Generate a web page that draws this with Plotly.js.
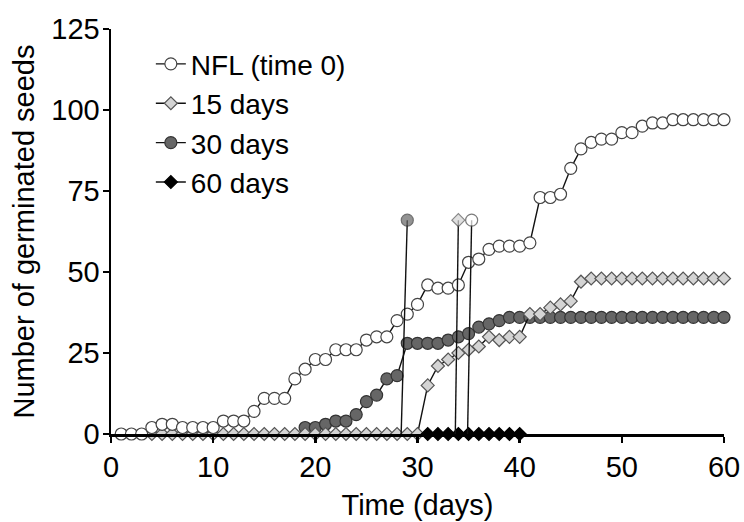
<!DOCTYPE html>
<html>
<head>
<meta charset="utf-8">
<script src="https://cdn.plot.ly/plotly-3.0.1.min.js"></script>
<style>html,body{margin:0;padding:0;background:#fff;}#chart{width:744px;height:522px;}</style>
</head>
<body>
<div id="chart"></div>
<script>
// Days
var nflDays = [1,2,3,4,5,6,7,8,9,10,11,12,13,14,15,16,17,18,19,20,21,22,23,24,25,26,27,28,29,30,31,32,33,34,35,36,37,38,39,40,41,42,43,44,45,46,47,48,49,50,51,52,53,54,55,56,57,58,59,60];
var nflValues = [0,0,0,2,3,3,2,2,2,2,4,4,4,7,11,11,11,17,20,23,23,26,26,26,29,30,30,35,37,40,46,45,45,46,53,54,57,58,58,58,59,73,73,74,82,88,90,91,91,93,93,95,96,96,97,97,97,97,97,97];

var d15Days = [4,5,6,7,8,9,10,11,12,13,14,15,16,17,18,19,20,21,22,23,24,25,26,27,28,29,30,31,32,33,34,35,36,37,38,39,40,41,42,43,44,45,46,47,48,49,50,51,52,53,54,55,56,57,58,59,60];
var d15Values = [0,0,0,0,0,0,0,0,0,0,0,0,0,0,0,0,0,0,0,0,0,0,0,0,0,0,0,15,21,23,25,26,27,30,29,30,30,37,37,39,40,41,47,48,48,48,48,48,48,48,48,48,48,48,48,48,48];

var d30Days = [19,20,21,22,23,24,25,26,27,28,29,30,31,32,33,34,35,36,37,38,39,40,41,42,43,44,45,46,47,48,49,50,51,52,53,54,55,56,57,58,59,60];
var d30Values = [2,2,3,4,4,6,10,12,17,18,28,28,28,28,29,30,31,33,34,35,36,36,36,36,36,36,36,36,36,36,36,36,36,36,36,36,36,36,36,36,36,36];

var d60Days = [31,32,33,34,35,36,37,38,39,40];
var d60Values = [0,0,0,0,0,0,0,0,0,0];

// Stray vertical strokes (marker at top, line down to the axis)
var spike30Days = [29.0, 28.4];
var spike30Values = [66, 0];
var spike15Days = [34.0, 33.7];
var spike15Values = [66, 0];
var spikeNflDays = [35.3, 34.9];
var spikeNflValues = [66, 0];

var seriesNames = ['NFL (time 0)', '15 days', '30 days', '60 days'];
var xTicks = [0,10,20,30,40,50,60];
var yTicks = [0,25,50,75,100,125];

var FONT = 'Liberation Sans, Arial, Helvetica, sans-serif';
var lineStyle = {color: '#111', width: 1.4};

var traces = [
  {x: d30Days, y: d30Values, name: seriesNames[2], mode: 'lines+markers', legendrank: 3,
   line: lineStyle, cliponaxis: false,
   marker: {symbol: 'circle', size: 12, color: '#666666', line: {color: '#333', width: 1.2}}},
  {x: d15Days, y: d15Values, name: seriesNames[1], mode: 'lines+markers', legendrank: 2,
   line: lineStyle, cliponaxis: false,
   marker: {symbol: 'diamond', size: 10, color: '#d4d4d4', line: {color: '#555', width: 1.2}}},
  {x: nflDays, y: nflValues, name: seriesNames[0], mode: 'lines+markers', legendrank: 1,
   line: lineStyle, cliponaxis: false,
   marker: {symbol: 'circle', size: 12, color: '#ffffff', line: {color: '#444', width: 1.2}}},
  {x: d60Days, y: d60Values, name: seriesNames[3], mode: 'lines+markers', legendrank: 4,
   line: lineStyle, cliponaxis: false,
   marker: {symbol: 'diamond', size: 10, color: '#000000', line: {color: '#000', width: 1.2}}},
  {x: spike30Days, y: spike30Values, mode: 'lines+markers', showlegend: false, cliponaxis: false,
   line: lineStyle, marker: {symbol: 'circle', size: [12, 0], color: '#666666', line: {color: '#333', width: [1.2, 0]}}},
  {x: spike15Days, y: spike15Values, mode: 'lines+markers', showlegend: false, cliponaxis: false,
   line: lineStyle, marker: {symbol: 'diamond', size: [10, 0], color: '#d4d4d4', line: {color: '#555', width: [1.2, 0]}}},
  {x: spikeNflDays, y: spikeNflValues, mode: 'lines+markers', showlegend: false, cliponaxis: false,
   line: lineStyle, marker: {symbol: 'circle', size: [12, 0], color: '#ffffff', line: {color: '#444', width: [1.2, 0]}}}
];

var layout = {
  width: 744, height: 522,
  margin: {l: 111, r: 20, t: 29, b: 88},
  paper_bgcolor: '#fff', plot_bgcolor: '#fff',
  font: {family: FONT, size: 29, color: '#000'},
  showlegend: true,
  legend: {x: 0.065, y: 0.975, xanchor: 'left', yanchor: 'top', bgcolor: 'rgba(0,0,0,0)',
           font: {family: FONT, size: 28, color: '#000'}},
  xaxis: {range: [0, 60], tickvals: xTicks, ticktext: xTicks.map(String),
          showline: true, linecolor: '#000', linewidth: 2.5, ticks: 'outside', ticklen: 6, tickwidth: 2.5, tickcolor: '#000',
          showgrid: false, zeroline: false, tickfont: {family: FONT, size: 29},
          title: {text: 'Time (days)', font: {family: FONT, size: 29}, standoff: 13}},
  yaxis: {range: [0, 125], tickvals: yTicks, ticktext: yTicks.map(String),
          showline: true, linecolor: '#000', linewidth: 2.5, ticks: 'outside', ticklen: 6, tickwidth: 2.5, tickcolor: '#000',
          showgrid: false, zeroline: false, tickfont: {family: FONT, size: 29}, ticklabelstandoff: -3,
          title: {text: 'Number of germinated seeds', font: {family: FONT, size: 29}, standoff: 8}}
};

Plotly.newPlot('chart', traces, layout, {staticPlot: true, displayModeBar: false});
</script>
</body>
</html>
